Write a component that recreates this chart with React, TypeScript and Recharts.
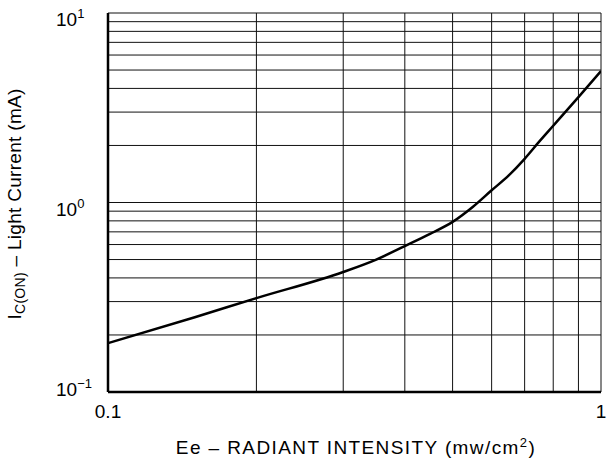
import React from "react";
import { LineChart, Line, XAxis, YAxis, CartesianGrid } from "recharts";

// Ee – radiant intensity (mw/cm²)
const radiantIntensity = [0.1, 0.15, 0.2, 0.3, 0.35, 0.4, 0.45, 0.5, 0.55, 0.6, 0.65, 0.7, 0.75, 0.8, 0.9, 1.0];
// IC(ON) – light current (mA)
const lightCurrent = [0.181, 0.248, 0.313, 0.43, 0.5, 0.589, 0.683, 0.79, 0.95, 1.16, 1.39, 1.7, 2.1, 2.54, 3.6, 4.94];

const xTicks = [0.1, 0.2, 0.3, 0.4, 0.5, 0.6, 0.7, 0.8, 0.9, 1];
const xTickLabels: Record<string, string> = { "0.1": "0.1", "1": "1" };
const yTicks = [
  0.1, 0.2, 0.3, 0.4, 0.5, 0.6, 0.7, 0.8, 0.9,
  1, 2, 3, 4, 5, 6, 7, 8, 9, 10,
];
const yDecades: Record<string, string> = { "0.1": "−1", "1": "0", "10": "1" };

const data = radiantIntensity.map((x, i) => ({ x, y: lightCurrent[i] }));

const FONT = "'Liberation Sans', Arial, sans-serif";

const YTick = ({ x, y, payload }: any) => {
  const exp = yDecades[String(payload.value)];
  if (!exp) return null;
  const dy = payload.value === 0.1 ? 4 : 13;
  return (
    <text x={x - 44} y={y + dy} fontSize={19} fontFamily={FONT} fill="#000">
      <tspan>10</tspan>
      <tspan dy={-8} fontSize={13}>{exp}</tspan>
    </text>
  );
};

const XTick = ({ x, y, payload }: any) => {
  const label = xTickLabels[String(payload.value)];
  if (!label) return null;
  return (
    <text x={x} y={y + 18} textAnchor="middle" fontSize={19} fontFamily={FONT} fill="#000">
      {label}
    </text>
  );
};

export default function App() {
  return (
    <div style={{ position: "absolute", left: 0, top: 0, width: 608, height: 469, background: "#fff" }}>
      <LineChart
        width={608}
        height={469}
        data={data}
        margin={{ top: 13, right: 7, bottom: 47, left: 8 }}
      >
        <CartesianGrid stroke="#111" strokeWidth={1} />
        <XAxis
          dataKey="x"
          type="number"
          scale="log"
          domain={[0.1, 1]}
          ticks={xTicks}
          interval={0}
          allowDataOverflow
          axisLine={{ stroke: "#000", strokeWidth: 2.5 }}
          tickLine={false}
          tick={<XTick />}
          height={30}
        />
        <YAxis
          dataKey="y"
          type="number"
          scale="log"
          domain={[0.1, 10]}
          ticks={yTicks}
          interval={0}
          allowDataOverflow
          axisLine={{ stroke: "#000", strokeWidth: 2.5 }}
          tickLine={false}
          tick={<YTick />}
          width={100}
        />
        <Line
          type="monotone"
          dataKey="y"
          stroke="#000"
          strokeWidth={2.5}
          dot={false}
          isAnimationActive={false}
        />
        <text
          x={356}
          y={454}
          textAnchor="middle"
          fontSize={19}
          letterSpacing={1.4}
          fontFamily={FONT}
          fill="#000"
        >
          Ee – RADIANT INTENSITY (mw/cm
          <tspan dy={-7} fontSize={13}>2</tspan>
          <tspan dy={7}>)</tspan>
        </text>
        <text
          transform="translate(21, 204) rotate(-90)"
          textAnchor="middle"
          fontSize={19}
          letterSpacing={0.3}
          fontFamily={FONT}
          fill="#000"
        >
          I<tspan dy={4} fontSize={14}>C(ON)</tspan>
          <tspan dy={-4}> – Light Current (mA)</tspan>
        </text>
      </LineChart>
    </div>
  );
}
